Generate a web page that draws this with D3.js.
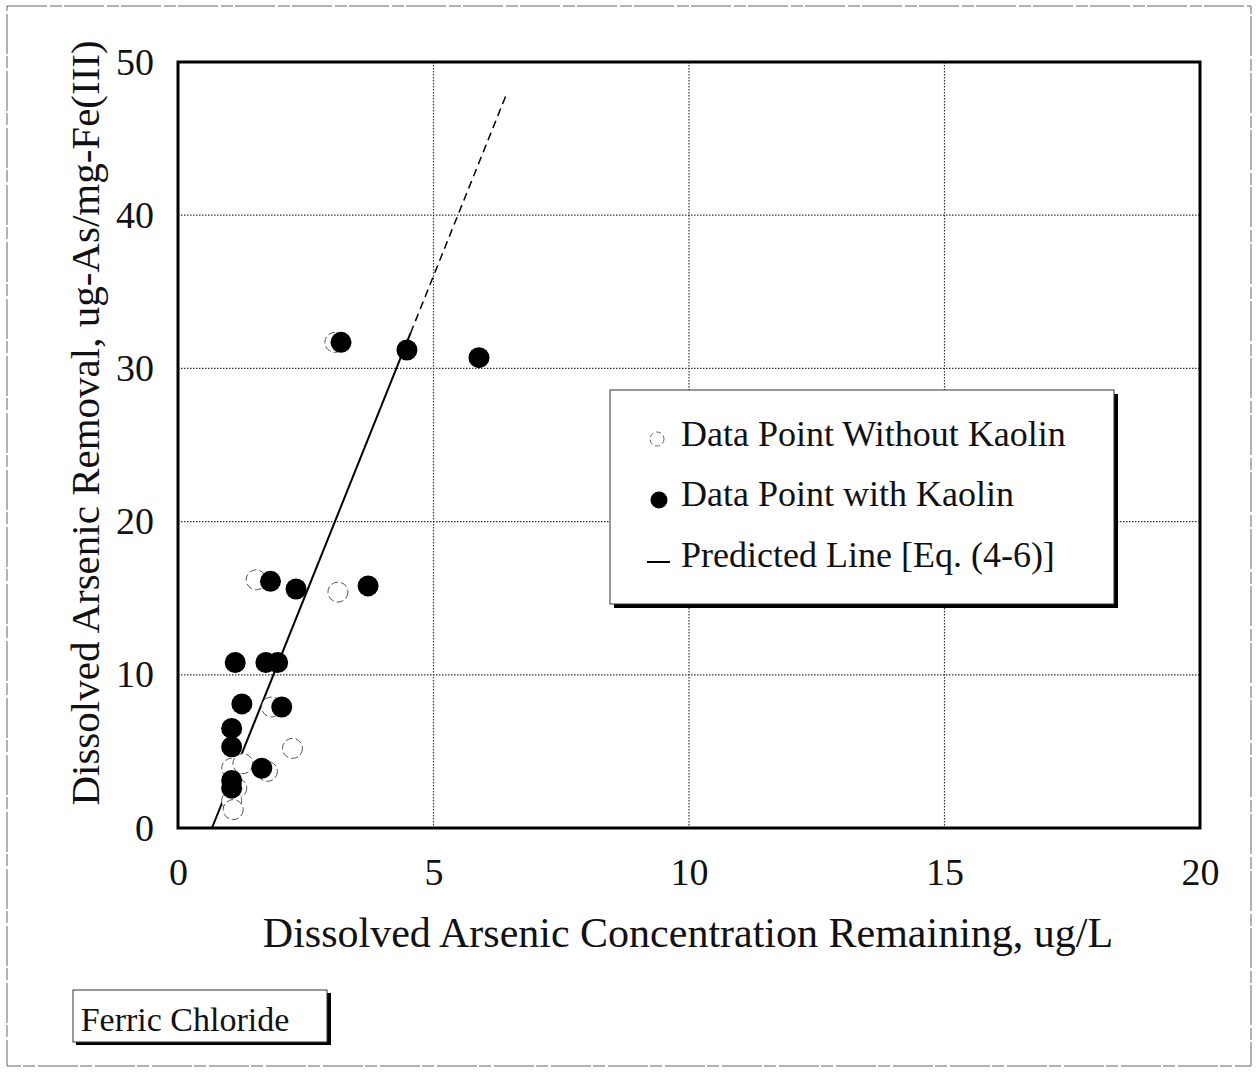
<!DOCTYPE html>
<html><head><meta charset="utf-8">
<script src="https://cdn.jsdelivr.net/npm/d3@7"></script>
<style>
html,body{margin:0;padding:0;background:#fff;}
svg{display:block;}
text{font-family:"Liberation Serif","DejaVu Serif",serif;fill:#111;}
</style></head>
<body>
<svg id="chart" width="1259" height="1072"></svg>
<script>
// ---- data ----
const xTicks = [0, 5, 10, 15, 20];
const yTicks = [0, 10, 20, 30, 40, 50];
const withoutX = [3.07, 1.53, 3.13, 1.83, 2.24, 1.05, 1.27, 1.75, 1.15, 1.05, 1.08];
const withoutY = [31.7, 16.2, 15.4, 7.9, 5.2, 3.9, 4.2, 3.7, 2.6, 1.8, 1.2];
const withX = [3.19, 4.48, 5.89, 1.81, 2.31, 3.72, 1.12, 1.72, 1.95, 1.25, 2.03, 1.05, 1.05, 1.64, 1.05, 1.05];
const withY = [31.7, 31.2, 30.7, 16.1, 15.6, 15.8, 10.8, 10.8, 10.8, 8.1, 7.9, 6.5, 5.3, 3.9, 3.1, 2.6];
const predSolidX = [0.665, 4.55];
const predSolidY = [0, 32.3];
const predDashX = [4.55, 6.44];
const predDashY = [32.3, 48.0];
const legendLabels = ["Data Point Without Kaolin", "Data Point with Kaolin", "Predicted Line [Eq. (4-6)]"];
const xTitle = "Dissolved Arsenic Concentration Remaining, ug/L";
const yTitle = "Dissolved Arsenic Removal, ug-As/mg-Fe(III)";
const noteText = "Ferric Chloride";

// ---- layout ----
const svg = d3.select("#chart");
const L = 178, R = 1200, T = 62, B = 828;
const x = d3.scaleLinear().domain([0, 20]).range([L, R]);
const y = d3.scaleLinear().domain([0, 50]).range([B, T]);

// outer frame
svg.append("rect").attr("x", 7).attr("y", 6).attr("width", 1244).attr("height", 1060)
  .attr("fill", "none").attr("stroke", "#666").attr("stroke-width", 1)
  .attr("stroke-dasharray", "40,3,12,2");

// grid
const grid = svg.append("g");
grid.selectAll("line.gx").data(xTicks.filter(d => d > 0 && d < 20)).join("line")
  .attr("x1", d => x(d)).attr("x2", d => x(d)).attr("y1", T).attr("y2", B)
  .attr("stroke", "#333").attr("stroke-width", 1.2).attr("stroke-dasharray", "1.5,1.5");
grid.selectAll("line.gy").data(yTicks.filter(d => d > 0 && d < 50)).join("line")
  .attr("x1", L).attr("x2", R).attr("y1", d => y(d)).attr("y2", d => y(d))
  .attr("stroke", "#333").attr("stroke-width", 1.2).attr("stroke-dasharray", "1.5,1.5");

// axes (labels only, frame drawn separately)
const xAxis = svg.append("g").attr("transform", `translate(0,${B})`)
  .call(d3.axisBottom(x).tickValues(xTicks).tickSize(0).tickPadding(30));
xAxis.select(".domain").remove();
xAxis.selectAll("text").style("font-size", "38px").attr("fill", "#111")
  .style("font-family", '"Liberation Serif", serif');
const yAxis = svg.append("g").attr("transform", `translate(${L},0)`)
  .call(d3.axisLeft(y).tickValues(yTicks).tickSize(0).tickPadding(24));
yAxis.select(".domain").remove();
yAxis.selectAll("text").style("font-size", "38px").attr("fill", "#111")
  .style("font-family", '"Liberation Serif", serif');

// predicted line
const line = d3.line().x(d => x(d[0])).y(d => y(d[1]));
svg.append("path").datum(d3.zip(predSolidX, predSolidY)).attr("d", line)
  .attr("fill", "none").attr("stroke", "#000").attr("stroke-width", 2);
svg.append("path").datum(d3.zip(predDashX, predDashY)).attr("d", line)
  .attr("fill", "none").attr("stroke", "#000").attr("stroke-width", 1.5)
  .attr("stroke-dasharray", "8,5");

// points
svg.append("g").selectAll("circle").data(d3.zip(withoutX, withoutY)).join("circle")
  .attr("cx", d => x(d[0])).attr("cy", d => y(d[1])).attr("r", 10)
  .attr("fill", "#fff").attr("stroke", "#555").attr("stroke-width", 1)
  .attr("stroke-dasharray", "7,3");
svg.append("g").selectAll("circle").data(d3.zip(withX, withY)).join("circle")
  .attr("cx", d => x(d[0])).attr("cy", d => y(d[1])).attr("r", 10.5)
  .attr("fill", "#000");

// plot frame
svg.append("rect").attr("x", L).attr("y", T).attr("width", R - L).attr("height", B - T)
  .attr("fill", "none").attr("stroke", "#000").attr("stroke-width", 3);

// axis titles
svg.append("text").attr("x", (L + R) / 2 - 1).attr("y", 947).attr("text-anchor", "middle")
  .style("font-size", "42px").text(xTitle);
svg.append("text").attr("transform", `translate(99,${(T + B) / 2 - 22}) rotate(-90)`)
  .attr("text-anchor", "middle").style("font-size", "41px").text(yTitle);

// legend
const lg = svg.append("g");
lg.append("rect").attr("x", 614).attr("y", 394).attr("width", 504).attr("height", 214).attr("fill", "#000");
lg.append("rect").attr("x", 610).attr("y", 390).attr("width", 504).attr("height", 214)
  .attr("fill", "#fff").attr("stroke", "#333").attr("stroke-width", 1);
const rowsY = [446, 506, 567];
lg.append("circle").attr("cx", 657).attr("cy", 439).attr("r", 7)
  .attr("fill", "#fff").attr("stroke", "#666").attr("stroke-width", 1).attr("stroke-dasharray", "5,3");
lg.append("circle").attr("cx", 659).attr("cy", 500).attr("r", 8.5).attr("fill", "#000");
lg.append("line").attr("x1", 647).attr("x2", 670).attr("y1", 562).attr("y2", 562)
  .attr("stroke", "#000").attr("stroke-width", 2);
lg.selectAll("text.lt").data(legendLabels).join("text")
  .attr("x", 681).attr("y", (d, i) => rowsY[i])
  .style("font-size", "36px").text(d => d);

// note box
const nb = svg.append("g");
nb.append("rect").attr("x", 76).attr("y", 993).attr("width", 255).attr("height", 52).attr("fill", "#000");
nb.append("rect").attr("x", 73).attr("y", 990).attr("width", 254).attr("height", 52)
  .attr("fill", "#fff").attr("stroke", "#333").attr("stroke-width", 1);
nb.append("text").attr("x", 185).attr("y", 1031).attr("text-anchor", "middle")
  .style("font-size", "34px").text(noteText);
</script>
</body></html>
